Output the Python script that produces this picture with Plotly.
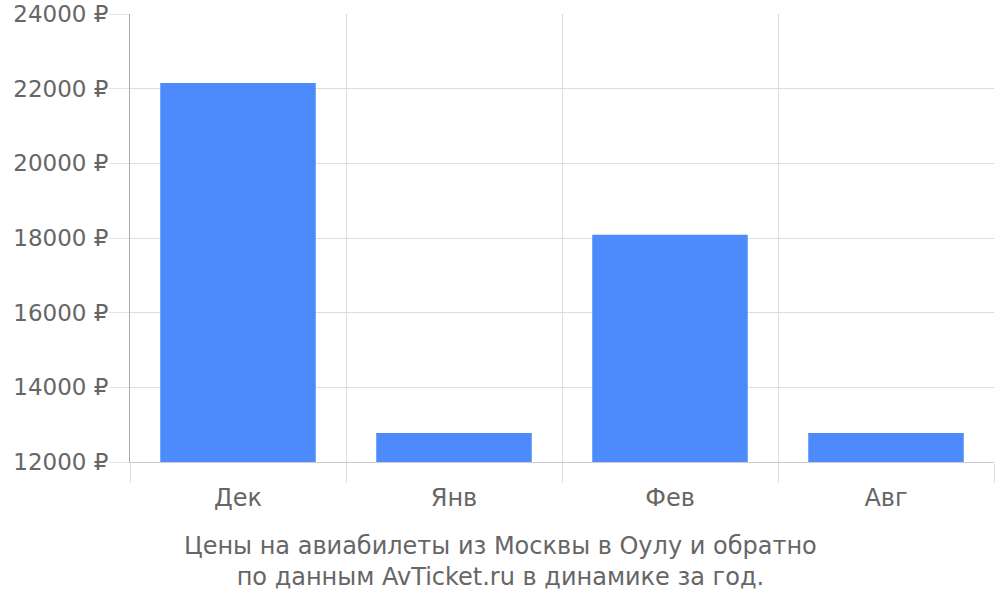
import plotly.graph_objects as go

categories = ["Дек", "Янв", "Фев", "Авг"]
prices = [22150, 12780, 18090, 12780]
y_ticks = [12000, 14000, 16000, 18000, 20000, 22000, 24000]
y_tick_labels = [f"{v} ₽" for v in y_ticks]
title_text = "Цены на авиабилеты из Москвы в Оулу и обратно<br>по данным AvTicket.ru в динамике за год."

fig = go.Figure(go.Bar(
    x=categories, y=prices, marker_color="#4d8afb", marker_line_width=0,
))

fig.update_layout(
    width=1000, height=600,
    margin=dict(l=130, r=6, t=14, b=138, autoexpand=False),
    paper_bgcolor="white", plot_bgcolor="white",
    bargap=0.28,
    font=dict(family="DejaVu Sans", size=24, color="#666666"),
    showlegend=False,
    xaxis=dict(
        tickson="boundaries", ticks="outside", ticklen=20, tickcolor="#dddddd",
        showgrid=True, gridcolor="#dddddd", gridwidth=1,
        showline=True, linecolor="#cccccc", linewidth=1,
        automargin=False, ticklabelstandoff=14,
        tickfont=dict(size=24, color="#666666"),
    ),
    yaxis=dict(
        range=[12000, 24000], tickvals=y_ticks, ticktext=y_tick_labels,
        ticks="outside", ticklen=20, tickcolor="#e2e2e2",
        showgrid=True, gridcolor="#dddddd", gridwidth=1,
        showline=True, linecolor="#aaaaaa", linewidth=1,
        zeroline=False, automargin=False,
        ticklabeloverflow="allow", ticklabelstandoff=-4,
        tickfont=dict(size=23, color="#666666"),
    ),
    annotations=[dict(
        text=title_text, xref="paper", yref="paper", x=(500 - 130) / 864, y=-0.222,
        xanchor="center", yanchor="middle", showarrow=False,
        font=dict(size=24, color="#666666"),
    )],
)

fig.write_html("out.html", config={"displayModeBar": False},
               post_script="document.body.style.margin='0';")
